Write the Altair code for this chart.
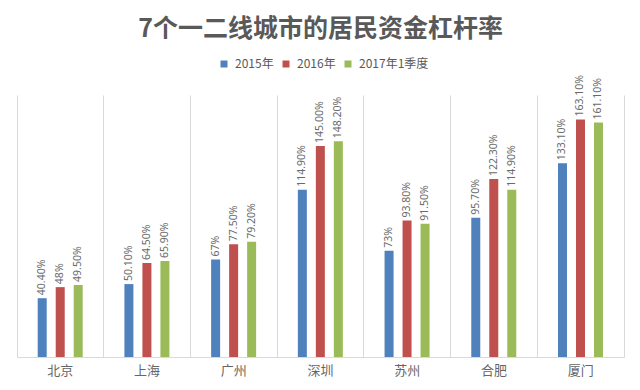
import altair as alt
import pandas as pd

cities = ["北京", "上海", "广州", "深圳", "苏州", "合肥", "厦门"]
series = ["2015年", "2016年", "2017年1季度"]
v2015 = [40.40, 50.10, 67.0, 114.90, 73.0, 95.70, 133.10]
v2016 = [48.0, 64.50, 77.50, 145.00, 93.80, 122.30, 163.10]
v2017 = [49.50, 65.90, 79.20, 148.20, 91.50, 114.90, 161.10]
l2015 = ["40.40%", "50.10%", "67%", "114.90%", "73%", "95.70%", "133.10%"]
l2016 = ["48%", "64.50%", "77.50%", "145.00%", "93.80%", "122.30%", "163.10%"]
l2017 = ["49.50%", "65.90%", "79.20%", "148.20%", "91.50%", "114.90%", "161.10%"]
colors = ["#4F81BD", "#C0504D", "#9BBB59"]

rows = []
for s, vals, labs in zip(series, [v2015, v2016, v2017], [l2015, l2016, l2017]):
    for c, v, l in zip(cities, vals, labs):
        rows.append({"city": c, "series": s, "value": v, "label": l})
df = pd.DataFrame(rows)

FONT = "Noto Sans CJK SC"
GRID = "#D9D9D9"
TXT = "#595959"

x_enc = alt.X(
    "city:N",
    sort=cities,
    scale=alt.Scale(paddingInner=0, paddingOuter=0),
    axis=alt.Axis(
        title=None,
        labelAngle=0,
        labelFontSize=13,
        labelColor="#666666",
        labelFont=FONT,
        labelFontWeight="normal",
        labelPadding=7,
        ticks=False,
        domain=True,
        domainColor=GRID,
        grid=True,
        gridColor=GRID,
        bandPosition=0,
    ),
)
xo_enc = alt.XOffset(
    "series:N",
    sort=series,
    scale=alt.Scale(range=[16.2, 70.2], paddingInner=0.5, paddingOuter=0.25),
)

base = alt.Chart(df)

bars = base.mark_bar().encode(
    x=x_enc,
    xOffset=xo_enc,
    y=alt.Y("value:Q", scale=alt.Scale(domain=[0, 180]), axis=None),
    color=alt.Color(
        "series:N",
        sort=series,
        scale=alt.Scale(domain=series, range=colors),
        legend=alt.Legend(
            title=None,
            orient="none",
            direction="horizontal",
            legendX=201,
            legendY=-37,
            symbolType="square",
            symbolSize=49,
            symbolStrokeWidth=0,
            labelFontSize=12,
            labelColor=TXT,
            labelFont=FONT,
            labelOffset=5,
            columnPadding=6,
            padding=0,
        ),
    ),
)

labels = base.mark_text(
    angle=270, align="left", baseline="middle", dx=3, fontSize=10.5, color="#6a6a6a", font="Noto Sans"
).encode(
    x=x_enc,
    xOffset=xo_enc,
    y=alt.Y(
        "value:Q",
        scale=alt.Scale(domain=[0, 180]),
        axis=alt.Axis(
            orient="right",
            title=None,
            labels=False,
            ticks=False,
            grid=False,
            domain=True,
            domainColor=GRID,
        ),
    ),
    text="label:N",
)

chart = (
    alt.layer(bars, labels)
    .resolve_scale(y="independent")
    .properties(
        width=607,
        height=262,
        autosize=alt.AutoSizeParams(type="none"),
        padding={"left": 9, "top": 87, "right": 8, "bottom": 25},
        background="white",
        title=alt.TitleParams(
            text="7个一二线城市的居民资金杠杆率",
            font=FONT,
            fontSize=25,
            fontWeight="bold",
            color=TXT,
            anchor="middle",
            frame="group",
            offset=16,
        ),
    )
    .configure_view(strokeWidth=0)
)

chart.save("out.html", embed_options={"renderer": "svg", "actions": False})
